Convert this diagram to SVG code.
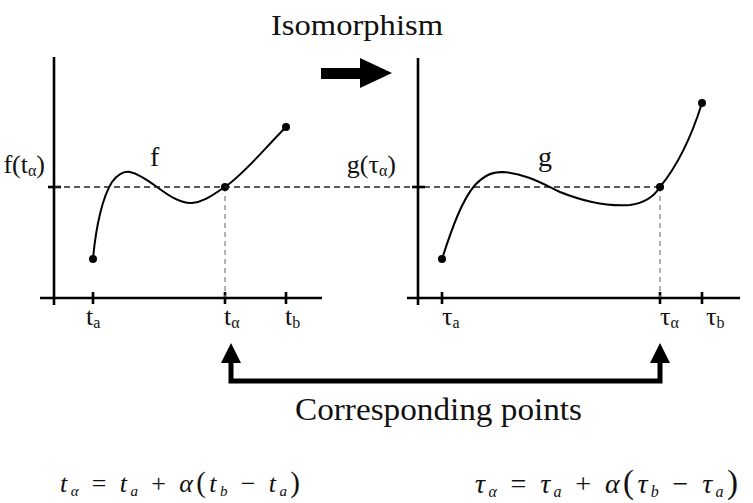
<svg xmlns="http://www.w3.org/2000/svg" width="753" height="503" viewBox="0 0 753 503">
<defs>
<style>
text,tspan{font-family:"Liberation Serif","Times New Roman",serif !important}
.ax{stroke:#000;stroke-width:2.6;fill:none}
.tk{stroke:#000;stroke-width:2.6}
.cv{stroke:#000;stroke-width:2;fill:none}
.dh{stroke:#222;stroke-width:1.3;stroke-dasharray:6,4;fill:none}
.dv{stroke:#888;stroke-width:1.3;stroke-dasharray:5,4;fill:none}
.lb{fill:#111}
.eq{font-style:italic;fill:#111}
.conn{stroke:#000;stroke-width:5;fill:none}
</style>
</defs>
<rect width="753" height="503" fill="#fff"/>
<text class="lb" style="font-family:'Liberation Serif',serif" x="357" y="35" font-size="29" text-anchor="middle" textLength="172" lengthAdjust="spacingAndGlyphs">Isomorphism</text>
<g id="iso-arrow">
<polygon points="321,68 360,68 360,58 392,73 360,88 360,79 321,79" fill="#000"/>
</g>
<g id="plot-f">
<line class="ax" x1="54" y1="57" x2="54" y2="305"/>
<line class="ax" x1="40" y1="298" x2="322" y2="298"/>
<line class="tk" x1="48" y1="187" x2="61" y2="187"/>
<line class="tk" x1="93" y1="292" x2="93" y2="304"/>
<line class="tk" x1="225" y1="292" x2="225" y2="304"/>
<line class="tk" x1="286" y1="292" x2="286" y2="304"/>
<line class="dv" x1="225" y1="187" x2="225" y2="297"/>
<path class="cv" d="M93,259 C96,225 103,196 112,182 C118,174 124,171 130,172 C150,176 170,204 192,203 C205,202 215,193 225,187 C245,173 265,148 286,127"/>
<circle cx="93" cy="259" r="4"/>
<circle cx="225" cy="187" r="4"/>
<circle cx="286" cy="127" r="4"/>
<text class="lb" style="font-family:'Liberation Serif',serif" x="150" y="166" font-size="28">f</text>
<text class="lb" style="font-family:'Liberation Serif',serif" x="45" y="173" font-size="26" text-anchor="end">f(t<tspan font-size="16" dy="3">α</tspan><tspan dy="-3">)</tspan></text>
<text class="lb" style="font-family:'Liberation Serif',serif" x="86" y="325" font-size="26">t<tspan font-size="16" dy="3">a</tspan></text>
<text class="lb" style="font-family:'Liberation Serif',serif" x="224" y="325" font-size="26">t<tspan font-size="16" dy="3">α</tspan></text>
<text class="lb" style="font-family:'Liberation Serif',serif" x="285" y="325" font-size="26">t<tspan font-size="16" dy="3">b</tspan></text>
</g>
<line class="dh" x1="54" y1="187" x2="660" y2="187"/>
<g id="plot-g">
<line class="ax" x1="418" y1="58" x2="418" y2="305"/>
<line class="ax" x1="407" y1="298" x2="740" y2="298"/>
<line class="tk" x1="412" y1="187" x2="425" y2="187"/>
<line class="tk" x1="442" y1="292" x2="442" y2="304"/>
<line class="tk" x1="660" y1="292" x2="660" y2="304"/>
<line class="tk" x1="702" y1="292" x2="702" y2="304"/>
<line class="dv" x1="660" y1="187" x2="660" y2="297"/>
<path class="cv" d="M442,259 C452,228 462,200 475,185 C485,175 492,172 502,172 C525,173 545,185 560,192 C580,200 605,207 630,205 C645,203 655,195 660,187 C678,165 692,135 702,103"/>
<circle cx="442" cy="259" r="4"/>
<circle cx="660" cy="187" r="4"/>
<circle cx="702" cy="103" r="4"/>
<text class="lb" style="font-family:'Liberation Serif',serif" x="538" y="166" font-size="28">g</text>
<text class="lb" style="font-family:'Liberation Serif',serif" x="396" y="173" font-size="26" text-anchor="end">g(τ<tspan font-size="16" dy="3">α</tspan><tspan dy="-3">)</tspan></text>
<text class="lb" style="font-family:'Liberation Serif',serif" x="442" y="325" font-size="26">τ<tspan font-size="16" dy="3">a</tspan></text>
<text class="lb" style="font-family:'Liberation Serif',serif" x="660" y="325" font-size="26">τ<tspan font-size="16" dy="3">α</tspan></text>
<text class="lb" style="font-family:'Liberation Serif',serif" x="706" y="325" font-size="26">τ<tspan font-size="16" dy="3">b</tspan></text>
</g>
<g id="connectors">
<path class="conn" d="M231,360 L231,381 L660,381 L660,360"/>
<polygon points="231,343 241,363 221,363" fill="#000"/>
<polygon points="660,343 670,363 650,363" fill="#000"/>
</g>
<text class="lb" style="font-family:'Liberation Serif',serif" x="295" y="420" font-size="31" textLength="287" lengthAdjust="spacingAndGlyphs">Corresponding points</text>
<g id="formula-t">
<text class="eq" style="font-family:'Liberation Serif',serif" x="60" y="492" font-size="26" textLength="240" lengthAdjust="spacing">t<tspan font-size="15" dy="4">α</tspan><tspan dy="-4" font-style="normal"> = </tspan>t<tspan font-size="15" dy="4">a</tspan><tspan dy="-4" font-style="normal"> + </tspan>α<tspan font-style="normal" font-size="29">(</tspan>t<tspan font-size="15" dy="4">b</tspan><tspan dy="-4" font-style="normal"> − </tspan>t<tspan font-size="15" dy="4">a</tspan><tspan dy="-4" font-style="normal" font-size="29">)</tspan></text>
</g>
<g id="formula-tau">
<text class="eq" style="font-family:'Liberation Serif',serif" x="475" y="493" font-size="28" textLength="263" lengthAdjust="spacing">τ<tspan font-size="16" dy="4">α</tspan><tspan dy="-4" font-style="normal"> = </tspan>τ<tspan font-size="16" dy="4">a</tspan><tspan dy="-4" font-style="normal"> + </tspan>α<tspan font-style="normal" font-size="33">(</tspan>τ<tspan font-size="16" dy="4">b</tspan><tspan dy="-4" font-style="normal"> − </tspan>τ<tspan font-size="16" dy="4">a</tspan><tspan dy="-4" font-style="normal" font-size="33">)</tspan></text>
</g>
</svg>
